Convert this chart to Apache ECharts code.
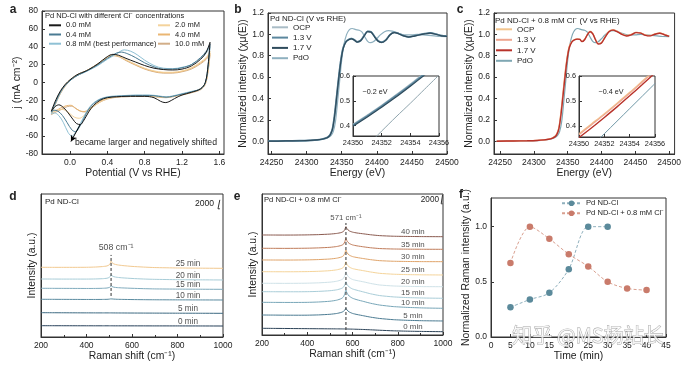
<!DOCTYPE html>
<html>
<head>
<meta charset="utf-8">
<script src="https://cdn.jsdelivr.net/npm/echarts@6/dist/echarts.min.js"></script>
<style>
html,body{margin:0;padding:0;background:#ffffff;}
#chart{width:684px;height:367px;}
</style>
</head>
<body>
<div id="chart"></div>
<script>
// ================= DATA =================
// ---- Panel a: CV curves [potential (V vs RHE), j (mA cm^-2)] ----
const cvLegend = ['0.0 mM','0.4 mM','0.8 mM (best performance)','2.0 mM','4.0 mM','10.0 mM'];
const cv00 = [[-0.2,-32],[-0.15,-19],[-0.1,-9],[-0.05,-2],[0,3],[0.05,7],[0.1,10],[0.15,12],[0.2,14.5],[0.3,21],[0.4,29],[0.46,31.5],[0.52,30.5],[0.6,27],[0.7,23],[0.8,19],[0.9,16],[1.0,14.5],[1.1,14],[1.2,15],[1.3,18.5],[1.4,26],[1.46,34],[1.5,45],
  [1.48,20],[1.45,0],[1.4,-7],[1.3,-11],[1.2,-14],[1.12,-18],[1.06,-21.5],[1.02,-22.5],[0.97,-21],[0.9,-17],[0.8,-15.5],[0.7,-15.5],[0.6,-15.5],[0.5,-16],[0.4,-17],[0.32,-20],[0.25,-26],[0.2,-33],[0.15,-42],[0.11,-47],[0.07,-46],[0.03,-41],[-0.02,-34],[-0.07,-28],[-0.12,-25],[-0.16,-27],[-0.2,-32]];
const cv04 = [[-0.2,-33],[-0.15,-21],[-0.1,-10],[-0.05,-3],[0,2],[0.05,6],[0.1,9],[0.15,11.5],[0.2,14],[0.3,20],[0.4,27],[0.5,33],[0.55,34],[0.62,32],[0.7,28],[0.8,22],[0.9,17.5],[1.0,15],[1.1,15],[1.2,16.5],[1.3,20],[1.4,28],[1.46,35],[1.5,43],
  [1.48,19],[1.45,0],[1.4,-7],[1.3,-10.5],[1.2,-13],[1.1,-15.5],[1.03,-16.5],[0.95,-15.5],[0.85,-14.5],[0.7,-14.5],[0.6,-15],[0.5,-15.5],[0.4,-16.5],[0.32,-19],[0.25,-24],[0.2,-30],[0.15,-40],[0.1,-50],[0.06,-55],[0.02,-53],[-0.03,-45],[-0.08,-37],[-0.13,-32],[-0.17,-31],[-0.2,-33]];
const cv08 = [[-0.2,-35],[-0.15,-22],[-0.1,-11],[-0.05,-3],[0,2],[0.05,6],[0.1,9],[0.15,11],[0.2,13.5],[0.3,19],[0.4,26],[0.5,32],[0.58,36.5],[0.65,35],[0.72,31],[0.8,25],[0.9,19],[1.0,16],[1.1,15.5],[1.2,17],[1.3,20],[1.4,27],[1.46,33],[1.5,40],
  [1.48,18],[1.45,0],[1.4,-7],[1.3,-10],[1.2,-12.5],[1.1,-15],[1.03,-16],[0.95,-15],[0.85,-14],[0.7,-14],[0.6,-14.5],[0.5,-15],[0.4,-16],[0.32,-18.5],[0.25,-23],[0.2,-29],[0.15,-38],[0.1,-48],[0.05,-57],[0.02,-60],[-0.02,-56],[-0.07,-45],[-0.12,-37],[-0.17,-34],[-0.2,-35]];
const cv20 = [[-0.2,-33],[-0.15,-21],[-0.1,-10],[-0.05,-2],[0,3],[0.05,7],[0.1,10],[0.15,12],[0.2,14.5],[0.3,21],[0.4,28.5],[0.45,30.5],[0.52,29.5],[0.6,25.5],[0.7,20.5],[0.8,16],[0.9,13],[1.0,11.5],[1.1,11.5],[1.2,13],[1.3,16.5],[1.4,23],[1.46,28],[1.5,35],
  [1.48,15],[1.45,-1],[1.4,-7],[1.3,-11],[1.2,-13.5],[1.1,-15.5],[1.03,-16.5],[0.95,-16],[0.85,-15],[0.7,-15],[0.6,-15.5],[0.5,-16],[0.4,-18],[0.32,-22],[0.25,-27],[0.2,-32],[0.15,-37],[0.1,-40],[0.05,-39],[0,-35],[-0.05,-31],[-0.1,-30],[-0.15,-31],[-0.2,-33]];
const cv40 = [[-0.2,-34],[-0.15,-22],[-0.1,-11],[-0.05,-3],[0,2.5],[0.05,6.5],[0.1,9.5],[0.15,12],[0.2,14.5],[0.3,21],[0.4,28.5],[0.46,30.5],[0.53,29],[0.6,25],[0.7,20],[0.8,15.5],[0.9,12.5],[1.0,11],[1.1,11],[1.2,12.5],[1.3,16],[1.4,22],[1.46,27],[1.5,33],
  [1.48,14],[1.45,-1],[1.4,-7],[1.3,-11],[1.2,-13.5],[1.1,-15.5],[1.03,-16.5],[0.95,-16],[0.85,-15],[0.7,-15],[0.6,-15.5],[0.5,-16],[0.4,-18],[0.32,-21],[0.25,-26],[0.2,-30],[0.15,-32.5],[0.1,-31.5],[0.05,-28],[0.01,-25.5],[-0.04,-26],[-0.1,-28.5],[-0.15,-31.5],[-0.2,-34]];
const cv100 = [[-0.2,-36],[-0.15,-23],[-0.1,-12],[-0.05,-4],[0,2],[0.05,6],[0.1,9],[0.15,11.5],[0.2,14],[0.3,20.5],[0.4,28],[0.46,30],[0.53,28.5],[0.6,24.5],[0.7,19.5],[0.8,15],[0.9,12],[1.0,10.5],[1.1,10.5],[1.2,12],[1.3,15],[1.4,21],[1.46,26],[1.5,31],
  [1.48,13],[1.45,-2],[1.4,-8],[1.3,-11.5],[1.2,-14],[1.1,-16],[1.03,-17],[0.95,-16.5],[0.85,-15.5],[0.7,-15.5],[0.6,-16],[0.5,-16.5],[0.4,-18.5],[0.32,-22],[0.25,-27],[0.2,-31],[0.16,-33],[0.11,-32],[0.06,-29],[0.02,-26.5],[-0.03,-27],[-0.09,-30],[-0.15,-33],[-0.2,-36]];

// ---- Panels b, c: XANES (energy eV, normalized intensity) ----
const bEnergy = [24245,24270,24290,24305,24315,24322,24327,24331,24334,24337,24340,24343,24346,24349,24352,24356,24360,24364,24368,24372,24377,24382,24387,24392,24397,24402,24407,24413,24419,24425,24431,24438,24445,24452,24460,24468,24476,24484,24492,24500];
const bOCP = [0,0.002,0.004,0.008,0.013,0.02,0.03,0.045,0.07,0.13,0.27,0.45,0.63,0.78,0.88,0.935,0.955,0.962,0.95,0.932,0.945,0.99,1.03,1.025,0.98,0.94,0.928,0.95,1.0,1.02,1.01,0.99,0.978,0.985,0.998,1.008,1.015,1.005,0.99,0.985];
const b13V = [0,0.002,0.004,0.008,0.012,0.019,0.028,0.042,0.066,0.12,0.25,0.43,0.61,0.765,0.87,0.93,0.952,0.96,0.948,0.93,0.943,0.988,1.028,1.022,0.978,0.938,0.926,0.948,0.998,1.018,1.008,0.988,0.976,0.984,0.996,1.006,1.013,1.003,0.988,0.983];
const b17V = [0,0.002,0.004,0.007,0.012,0.018,0.027,0.04,0.063,0.115,0.24,0.42,0.6,0.755,0.865,0.928,0.95,0.958,0.946,0.928,0.94,0.985,1.025,1.02,0.975,0.935,0.924,0.946,0.996,1.016,1.006,0.986,0.975,0.982,0.994,1.004,1.011,1.001,0.986,0.981];
const pdoEnergy = [24245,24270,24290,24305,24315,24322,24327,24331,24335,24338,24341,24344,24347,24350,24353,24357,24361,24365,24370,24375,24379,24383,24387,24391,24395,24400,24405,24411,24417,24422,24428,24435,24442,24450,24458,24466,24474,24482,24490,24500];
const pdoVal = [0,0.002,0.003,0.006,0.01,0.016,0.024,0.034,0.055,0.09,0.18,0.36,0.56,0.76,0.9,1.0,1.045,1.055,1.045,1.038,1.02,0.975,0.935,0.922,0.93,0.96,0.995,1.025,1.035,1.03,1.015,1.0,0.995,0.996,1.0,0.995,0.99,0.985,0.98,0.978];
const cEnergy = [24245,24270,24290,24305,24315,24322,24327,24331,24334,24337,24340,24343,24346,24349,24352,24356,24360,24364,24368,24371,24375,24379,24383,24387,24391,24395,24400,24405,24411,24417,24423,24430,24437,24444,24451,24458,24465,24472,24479,24486,24493,24500];
const cOCP = [0,0.002,0.004,0.008,0.013,0.02,0.03,0.046,0.072,0.135,0.28,0.46,0.64,0.785,0.885,0.935,0.952,0.958,0.955,0.935,0.955,1.0,1.03,1.01,0.955,0.915,0.925,0.975,1.03,1.045,1.03,1.005,0.99,1.0,1.02,1.015,0.995,0.99,1.005,1.015,1.0,0.985];
const c13V = [0,0.002,0.004,0.008,0.013,0.02,0.029,0.044,0.07,0.13,0.27,0.45,0.63,0.778,0.88,0.932,0.95,0.956,0.953,0.933,0.952,0.997,1.027,1.008,0.953,0.913,0.922,0.972,1.027,1.042,1.028,1.003,0.988,0.998,1.018,1.013,0.993,0.988,1.003,1.013,0.998,0.983];
const c17V = [0,0.002,0.004,0.007,0.012,0.018,0.027,0.04,0.064,0.118,0.245,0.42,0.6,0.76,0.868,0.928,0.948,0.955,0.952,0.932,0.95,0.995,1.025,1.005,0.95,0.91,0.92,0.97,1.025,1.04,1.025,1.0,0.985,0.996,1.016,1.011,0.991,0.986,1.001,1.011,0.996,0.981];
// insets (zoom of the edge)
const insetEnergy = [24350,24351,24352,24353,24354,24355,24356];
const insetTicks = [24350,24352,24354,24356];
const biOCP = [0.405,0.443,0.482,0.524,0.568,0.614,0.66];
const bi13V = [0.401,0.439,0.478,0.52,0.563,0.609,0.655];
const bi17V = [0.397,0.435,0.474,0.515,0.559,0.604,0.65];
const biPdO = [0.265,0.32,0.378,0.435,0.49,0.547,0.604];
const ciOCP = [0.37,0.41,0.45,0.492,0.535,0.58,0.625];
const ci13V = [0.366,0.406,0.446,0.488,0.531,0.576,0.621];
const ci17V = [0.355,0.394,0.435,0.477,0.521,0.566,0.612];
const ciPdO = [0.27,0.32,0.37,0.42,0.47,0.52,0.57];

// ---- Panel d: Raman, Pd ND-Cl (plotted, offset-stacked intensities) ----
const dShift = [200,250,300,350,400,440,470,490,500,505,508,512,520,535,560,600,650,700,800,900,1000];
const dTimes = ['0 min','5 min','10 min','15 min','20 min','25 min'];
const d0 = [2530,2525,2520,2515,2510,2505,2505,2505,2505,2505,2505,2505,2500,2500,2500,2495,2490,2485,2480,2470,2460];
const d5 = [5440,5430,5420,5410,5400,5395,5395,5395,5395,5395,5395,5390,5385,5380,5375,5365,5355,5345,5330,5315,5300];
const d10 = [8440,8430,8420,8410,8400,8400,8410,8430,8470,8520,8560,8520,8480,8440,8410,8380,8350,8330,8310,8295,8280];
const d15 = [10900,10890,10880,10870,10860,10870,10900,10960,11080,11250,11500,11300,11150,11050,10980,10900,10820,10760,10720,10690,10670];
const d20 = [12980,12970,12960,12960,12960,12990,13050,13150,13330,13600,13950,13700,13500,13350,13230,13100,12980,12900,12830,12790,12760];
const d25 = [15600,15590,15590,15590,15600,15660,15760,15900,16150,16500,17000,16650,16350,16150,15980,15800,15650,15540,15450,15400,15370];
const dPeak = 508;

// ---- Panel e: Raman, Pd ND-Cl + 0.8 mM Cl- ----
const eShift = [200,250,300,350,400,450,500,530,550,560,566,571,576,585,600,620,650,680,720,780,850,920,1000];
const eTimes = ['0 min','5 min','10 min','15 min','20 min','25 min','30 min','35 min','40 min'];
const e0 = [1520,1500,1480,1460,1440,1420,1400,1390,1380,1375,1370,1365,1360,1350,1330,1300,1250,1180,1080,950,860,800,750];
const e5 = [4540,4520,4500,4490,4500,4560,4700,4880,5120,5350,5700,6060,5650,5250,4900,4650,4350,4050,3750,3480,3320,3230,3180];
const e10 = [7420,7400,7390,7390,7410,7490,7660,7900,8250,8650,9400,10220,9500,8850,8350,8000,7600,7200,6800,6450,6250,6130,6060];
const e15 = [9830,9820,9810,9810,9830,9900,10050,10250,10540,10850,11400,12100,11450,10900,10450,10150,9750,9350,8950,8650,8480,8390,8330];
const e20 = [11740,11730,11720,11730,11760,11840,11990,12200,12500,12850,13500,14370,13650,13050,12600,12350,12050,11700,11350,11130,11030,10980,10960];
const e25 = [14370,14360,14350,14360,14390,14460,14600,14790,15050,15350,15900,16640,16000,15450,15080,14850,14580,14300,14000,13800,13700,13650,13620];
const e30 = [17030,17020,17010,17020,17050,17120,17250,17430,17680,17980,18550,19300,18650,18150,17800,17580,17330,17100,16870,16740,16680,16650,16640];
const e35 = [19680,19670,19660,19670,19700,19770,19900,20080,20320,20600,21150,21950,21300,20800,20450,20230,20000,19800,19620,19520,19480,19460,19450];
const e40 = [22700,22690,22680,22690,22720,22780,22900,23050,23250,23500,23950,24590,24100,23650,23350,23150,22950,22750,22550,22420,22360,22330,22310];
const ePeak = 571;
const scaleBarValue = 2000;

// ---- Panel f: normalized Raman intensity vs time ----
const fTimeA = [5,10,15,20,25,30];
const fPdNDCl = [0.27,0.34,0.40,0.615,1.0,1.0];
const fTimeB = [5,10,15,20,25,30,35,40];
const fPdNDClCl = [0.67,1.0,0.89,0.75,0.64,0.50,0.44,0.425];

// ================= STYLE =================
const FF = "'Liberation Sans',Arial,sans-serif";
const TC = '#222';
const cvColors = ['#1a1a1a','#4a7b93','#8fc1d5','#f4d39c','#eab673','#d2ae88'];
const dColors = ['#27405a','#3d6a82','#5a8ba0','#7fabbd','#a8cdd8','#f2c990'];
const eColors = ['#2b4257','#4b7b92','#77a6b8','#a9cdd8','#cfe2e8','#f5d49a','#e0a46a','#c07c5a','#8a5a4f'];

function merge(a,b){const o=Object.assign({},a);for(const k in b){const v=b[k];if(v&&typeof v==='object'&&!Array.isArray(v)&&o[k]&&typeof o[k]==='object'&&!Array.isArray(o[k]))o[k]=merge(o[k],v);else o[k]=v;}return o;}
function zip(xs,ys){return xs.map((x,i)=>[x,ys[i]]);}
function interp(xs,ys,x){for(let i=0;i<xs.length-1;i++){if(x>=xs[i]&&x<=xs[i+1]){const t=(x-xs[i])/(xs[i+1]-xs[i]);return ys[i]+t*(ys[i+1]-ys[i]);}}return ys[ys.length-1];}

const baseAxis = {
  type:'value',
  axisLine:{show:true,onZero:false,lineStyle:{color:'#333',width:1}},
  axisTick:{show:true,inside:true,length:3,lineStyle:{color:'#333',width:1}},
  axisLabel:{show:true,fontFamily:FF,fontSize:8.5,color:TC,margin:4,hideOverlap:false,formatter:v=>String(v)},
  splitLine:{show:false},
  nameLocation:'middle',
  nameTextStyle:{fontFamily:FF,fontSize:10.4,color:TC}
};
const f1 = v=>v.toFixed(1);
const eTicks = [24250,24300,24350,24400,24450,24500];
const gridBase = {show:true,borderColor:'#333',borderWidth:1,backgroundColor:'transparent'};
const insetLbl = {fontSize:7.3,margin:3,showMinLabel:true,showMaxLabel:true};

const xAxis = [
  merge(baseAxis,{gridIndex:0,min:-0.3,max:1.65,name:'Potential (V vs RHE)',nameGap:13,axisLabel:{customValues:[0,0.4,0.8,1.2,1.6],formatter:f1},axisTick:{customValues:[0,0.4,0.8,1.2,1.6]}}),
  merge(baseAxis,{gridIndex:1,min:24245,max:24500,name:'Energy (eV)',nameGap:11,axisLabel:{customValues:eTicks},axisTick:{customValues:eTicks}}),
  merge(baseAxis,{gridIndex:2,min:24241,max:24508,name:'Energy (eV)',nameGap:11,axisLabel:{customValues:eTicks},axisTick:{customValues:eTicks}}),
  merge(baseAxis,{gridIndex:3,min:24349.999,max:24356,z:11,axisLabel:merge(insetLbl,{customValues:insetTicks,margin:3.5}),axisTick:{customValues:insetTicks}}),
  merge(baseAxis,{gridIndex:4,min:24349.999,max:24356,z:11,axisLabel:merge(insetLbl,{customValues:insetTicks}),axisTick:{customValues:insetTicks}}),
  merge(baseAxis,{gridIndex:5,min:200,max:1000,interval:200,name:'Raman shift (cm⁻¹)',nameGap:12,minorTick:{show:true,splitNumber:2,length:2,lineStyle:{color:'#333'}}}),
  merge(baseAxis,{gridIndex:6,min:200,max:1000,interval:200,name:'Raman shift (cm⁻¹)',nameGap:12,minorTick:{show:true,splitNumber:2,length:2,lineStyle:{color:'#333'}}}),
  merge(baseAxis,{gridIndex:7,min:0,max:45,interval:5,name:'Time (min)',nameGap:12})
];
const yAxis = [
  merge(baseAxis,{gridIndex:0,min:-80,max:80,interval:20,name:'j (mA cm⁻²)',nameGap:20}),
  merge(baseAxis,{gridIndex:1,min:-0.12,max:1.2,name:'Normalized intensity (χμ(E))',nameGap:17,axisLabel:{customValues:[0,0.2,0.4,0.6,0.8,1.0,1.2],formatter:f1},axisTick:{customValues:[0,0.2,0.4,0.6,0.8,1.0,1.2]}}),
  merge(baseAxis,{gridIndex:2,min:-0.12,max:1.2,name:'Normalized intensity (χμ(E))',nameGap:17,axisLabel:{customValues:[0,0.2,0.4,0.6,0.8,1.0,1.2],formatter:f1},axisTick:{customValues:[0,0.2,0.4,0.6,0.8,1.0,1.2]}}),
  merge(baseAxis,{gridIndex:3,min:0.358,max:0.6,z:11,axisLabel:merge(insetLbl,{customValues:[0.4,0.5,0.6],formatter:f1}),axisTick:{customValues:[0.4,0.5,0.6]}}),
  merge(baseAxis,{gridIndex:4,min:0.357,max:0.6,z:11,axisLabel:merge(insetLbl,{customValues:[0.4,0.5,0.6],formatter:f1}),axisTick:{customValues:[0.4,0.5,0.6]}}),
  merge(baseAxis,{gridIndex:5,min:0,max:32000,name:'Intensity (a.u.)',nameGap:4,axisLabel:{show:false},axisTick:{show:false}}),
  merge(baseAxis,{gridIndex:6,min:0,max:32000,name:'Intensity (a.u.)',nameGap:4,axisLabel:{show:false},axisTick:{show:false}}),
  merge(baseAxis,{gridIndex:7,min:0,max:1.26,name:'Normalized Raman intensity (a.u.)',nameGap:15,axisLabel:{customValues:[0,0.5,1.0],formatter:f1},axisTick:{customValues:[0,0.5,1.0]}})
];

const grid = [
  merge(gridBase,{left:42,top:11,width:182,height:143}),
  merge(gridBase,{left:268,top:13,width:179,height:141}),
  merge(gridBase,{left:494,top:13,width:183,height:141}),
  merge(gridBase,{left:353,top:76,width:86,height:60,z:10,backgroundColor:'#fff'}),
  merge(gridBase,{left:579,top:76,width:76,height:61,z:10,backgroundColor:'#fff'}),
  merge(gridBase,{left:41,top:194,width:182,height:143}),
  merge(gridBase,{left:262,top:194,width:181,height:141}),
  merge(gridBase,{left:491,top:198,width:175,height:139})
];

const series = [];
function lineS(name,ax,data,color,width,extra){series.push(merge({type:'line',name,xAxisIndex:ax,yAxisIndex:ax,data,symbol:'none',showSymbol:false,lineStyle:{color,width},itemStyle:{color},silent:true,animation:false},extra||{}));}

// panel a (draw lighter ones first)
const cvData = [cv00,cv04,cv08,cv20,cv40,cv100];
[5,4,3,2,1,0].forEach(i=>lineS(cvLegend[i],0,cvData[i],cvColors[i],1,{smooth:0.35}));
series[series.length-1].markLine = {silent:true,symbol:['none','arrow'],symbolSize:[5,6],label:{show:false},
  lineStyle:{color:'#000',width:1,type:'solid'},data:[[{coord:[0.11,-47]},{coord:[0.01,-66]}]]};

// panel b
lineS('b:PdO',1,zip(pdoEnergy,pdoVal),'#8fb0bf',1.2,{smooth:0.3});
lineS('b:OCP',1,zip(bEnergy,bOCP),'#a9bcc6',1.2,{smooth:0.3});
lineS('b:1.3 V',1,zip(bEnergy,b13V),'#5b879e',1.8,{smooth:0.3});
lineS('b:1.7 V',1,zip(bEnergy,b17V),'#2f4b5c',1.2,{smooth:0.3});
// panel c
lineS('c:PdO',2,zip(pdoEnergy,pdoVal),'#7fa7b3',1.2,{smooth:0.3});
lineS('c:OCP',2,zip(cEnergy,cOCP),'#f3c58e',1.2,{smooth:0.3});
lineS('c:1.3 V',2,zip(cEnergy,c13V),'#eea58f',1.2,{smooth:0.3});
lineS('c:1.7 V',2,zip(cEnergy,c17V),'#b8322a',1.4,{smooth:0.3});
// inset b
lineS('bi:PdO',3,zip(insetEnergy,biPdO),'#8fa4ad',1,{z:12,smooth:0.3});
lineS('bi:OCP',3,zip(insetEnergy,biOCP),'#a9bcc6',1.2,{z:12,smooth:0.3});
lineS('bi:1.3 V',3,zip(insetEnergy,bi13V),'#5b879e',1.8,{z:12,smooth:0.3});
lineS('bi:1.7 V',3,zip(insetEnergy,bi17V),'#2f4b5c',1.2,{z:12,smooth:0.3,
  markLine:{silent:true,symbol:['none','arrow'],symbolSize:[4,5],label:{show:false},lineStyle:{color:'#000',width:1.2,type:'solid'},
  data:[[{coord:[24351.9,0.5]},{coord:[24353.2,0.5]}]]}});
// inset c
lineS('ci:PdO',4,zip(insetEnergy,ciPdO),'#6f97a6',1,{z:12,smooth:0.3});
lineS('ci:OCP',4,zip(insetEnergy,ciOCP),'#f3c58e',1.2,{z:12,smooth:0.3});
lineS('ci:1.3 V',4,zip(insetEnergy,ci13V),'#eea58f',1.2,{z:12,smooth:0.3});
lineS('ci:1.7 V',4,zip(insetEnergy,ci17V),'#b8322a',1.4,{z:12,smooth:0.3,
  markLine:{silent:true,symbol:['none','arrow'],symbolSize:[4,5],label:{show:false},lineStyle:{color:'#000',width:1.2,type:'solid'},
  data:[[{coord:[24352.7,0.495]},{coord:[24354.2,0.495]}]]}});

// panel d
const dSpec = [d0,d5,d10,d15,d20,d25];
dSpec.forEach((s,i)=>lineS('d '+dTimes[i],5,zip(dShift,s),dColors[i],1,{smooth:0.2}));
lineS('d peak',5,[[dPeak,9180],[dPeak,18370]],'#333',1,{lineStyle:{type:[3,2]}});
lineS('d bar',5,[[986,30690],[978,30690],[978,30690-scaleBarValue],[986,30690-scaleBarValue]],'#333',1);
const dLabelX = 846;
series.push({type:'scatter',name:'d labels',xAxisIndex:5,yAxisIndex:5,symbolSize:1,itemStyle:{color:'rgba(0,0,0,0)'},silent:true,
  label:{show:true,position:'top',distance:0,formatter:'{b}',fontFamily:FF,fontSize:8.2,color:TC},
  data:dSpec.map((s,i)=>({name:dTimes[i],value:[dLabelX,interp(dShift,s,dLabelX)]})).concat([
    {name:dPeak+' cm⁻¹',value:[dPeak,18370],label:{distance:2,offset:[5,0],fontSize:8.8}}])});

// panel e
const eSpec = [e0,e5,e10,e15,e20,e25,e30,e35,e40];
eSpec.forEach((s,i)=>lineS('e '+eTimes[i],6,zip(eShift,s),eColors[i],1,{smooth:0.2}));
lineS('e peak',6,[[ePeak,0],[ePeak,25420]],'#333',1,{lineStyle:{type:[3,2]}});
lineS('e bar',6,[[998,31780],[992,31780],[992,31780-scaleBarValue],[998,31780-scaleBarValue]],'#333',1);
const eLabelX = 867;
series.push({type:'scatter',name:'e labels',xAxisIndex:6,yAxisIndex:6,symbolSize:1,itemStyle:{color:'rgba(0,0,0,0)'},silent:true,
  label:{show:true,position:'top',distance:0,formatter:'{b}',fontFamily:FF,fontSize:7.9,color:TC},
  data:eSpec.map((s,i)=>({name:eTimes[i],value:[eLabelX,interp(eShift,s,eLabelX)]})).concat([
    {name:ePeak+' cm⁻¹',value:[ePeak,25420],label:{distance:1,fontSize:7.8}}])});

// panel f
series.push({type:'line',name:'Pd ND-Cl',xAxisIndex:7,yAxisIndex:7,data:zip(fTimeA,fPdNDCl),smooth:0.3,symbol:'circle',symbolSize:6.5,
  itemStyle:{color:'#5b8a9b'},lineStyle:{color:'#8fb0bd',width:1,type:[3,2]},silent:true});
series.push({type:'line',name:'Pd ND-Cl + 0.8 mM Cl⁻',xAxisIndex:7,yAxisIndex:7,data:zip(fTimeB,fPdNDClCl),smooth:0.3,symbol:'circle',symbolSize:6.5,
  itemStyle:{color:'#c97b6b'},lineStyle:{color:'#d9a090',width:1,type:[3,2]},silent:true});

// legends
const legBase = {orient:'vertical',padding:0,selectedMode:false,itemHeight:8};
const noSym = {opacity:0};
const legend = [
  merge(legBase,{data:cvLegend.slice(0,3),left:48,top:20.8,itemWidth:12,itemGap:0.2,itemStyle:noSym,textStyle:{fontFamily:FF,fontSize:7.5,color:TC,lineHeight:9}}),
  merge(legBase,{data:cvLegend.slice(3),left:157,top:20.8,itemWidth:12,itemGap:0.2,itemStyle:noSym,textStyle:{fontFamily:FF,fontSize:7.5,color:TC,lineHeight:9}}),
  merge(legBase,{data:['b:OCP','b:1.3 V','b:1.7 V','b:PdO'],formatter:n=>n.split(':')[1],left:271,top:22.3,itemWidth:16,itemGap:0.3,itemStyle:noSym,textStyle:{fontFamily:FF,fontSize:8,color:TC,lineHeight:10}}),
  merge(legBase,{data:['c:OCP','c:1.3 V','c:1.7 V','c:PdO'],formatter:n=>n.split(':')[1],left:495,top:24.3,itemWidth:16,itemGap:0.5,itemStyle:noSym,textStyle:{fontFamily:FF,fontSize:8,color:TC,lineHeight:10}}),
  merge(legBase,{data:['Pd ND-Cl','Pd ND-Cl + 0.8 mM Cl⁻'],left:561,top:198.3,itemWidth:19,itemHeight:7,itemGap:0,textStyle:{fontFamily:FF,fontSize:7.6,color:TC,lineHeight:10}})
];

function txt(text,x,y,size,opts){opts=opts||{};return {type:'text',x,y,z:50,silent:true,style:{text,fill:opts.fill||TC,font:(opts.weight||'normal')+' '+size+'px '+FF,align:opts.align||'left',verticalAlign:'middle'}};}
const graphic = [
  txt('a',13,10,12,{weight:'bold',align:'center'}),
  txt('b',238,10,12,{weight:'bold',align:'center'}),
  txt('c',460,10,12,{weight:'bold',align:'center'}),
  txt('d',13,197,12,{weight:'bold',align:'center'}),
  txt('e',237,197,12,{weight:'bold',align:'center'}),
  txt('f',461,195,12,{weight:'bold',align:'center'}),
  txt('Pd ND-Cl with different Cl⁻ concentrations',45,16,7.5),
  txt('became larger and negatively shifted',75,143,8.7),
  txt('Pd ND-Cl (V vs RHE)',270,19,8),
  txt('Pd ND-Cl + 0.8 mM Cl⁻ (V vs RHE)',495,20.7,8),
  txt('~0.2 eV',375,92,7.2,{align:'center'}),
  txt('~0.4 eV',611,92,7.2,{align:'center'}),
  txt('Pd ND-Cl',45,202,8),
  txt('2000',214,204,8.6,{align:'right'}),
  txt('Pd ND-Cl + 0.8 mM Cl⁻',264,200,7.6),
  txt('2000',439,200,8.2,{align:'right'}),
  {type:'text',x:588,y:335,z:100,silent:true,style:{text:'知乎 @MS杨站长',font:'20px "Noto Sans CJK SC"',fill:'rgba(255,255,255,0.8)',stroke:'rgba(130,130,130,0.75)',lineWidth:0.8,align:'center',verticalAlign:'middle'}}
];

const chart = echarts.init(document.getElementById('chart'),null,{renderer:'canvas'});
chart.setOption({animation:false,backgroundColor:'#fff',grid,xAxis,yAxis,series,legend,graphic});
</script>
</body>
</html>
